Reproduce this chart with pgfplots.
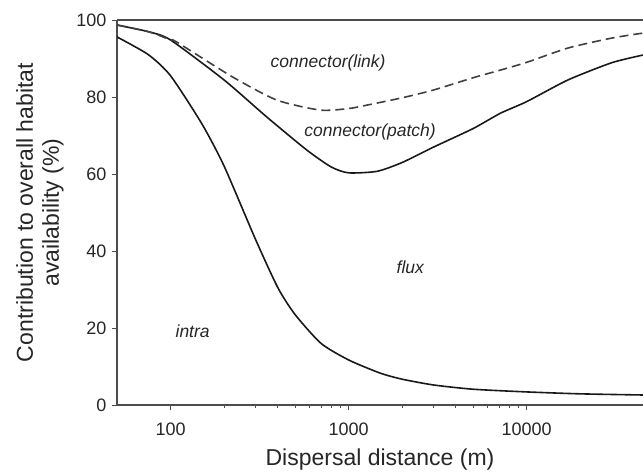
\documentclass[border=0pt]{standalone}
\usepackage{pgfplots}
\pgfplotsset{compat=1.18}
\usepackage{fontspec}
\setmainfont{Liberation Sans}
\begin{document}
\begin{tikzpicture}
\begin{axis}[
    name=ax,
    xmode=log,
    scale only axis,
    width=526pt, height=385pt,
    xmin=50, xmax=45000,
    ymin=0, ymax=100,
    axis x line=box, axis y line=left,
    axis line style={draw=black!70, line width=1.3pt, -},
    xtick={100,1000,10000},
    xticklabels={100,1000,10000},
    minor xtick={},
    ytick={0,20,...,100},
    xtick pos=bottom, ytick pos=left,
    tick align=outside,
    major tick length=5pt,
    tick style={draw=black!70, line width=1pt},
    /pgf/number format/assume math mode=true,
    ticklabel style={font=\fontsize{18}{20}\selectfont, text=black!85},
    xticklabel style={yshift=-9pt},
    yticklabel style={xshift=-2pt},
    xlabel={Dispersal distance (m)},
    ylabel={Contribution to overall habitat\\availability (\%)},
    label style={font=\fontsize{23}{26}\selectfont, text=black!85},
    ylabel style={align=center, yshift=6pt},
    xlabel style={yshift=-7pt},
]
% intra
\addplot[black!90, line width=1.6pt, no markers, smooth, tension=0.4] coordinates {
(50,95.6) (75,91) (100,85.5) (150,73) (200,62) (300,43) (400,30.5) (500,23.5)
(700,16) (1000,11.7) (1500,8.3) (2000,6.7) (3000,5.2) (5000,4.1) (10000,3.4)
(20000,2.9) (45000,2.6)};
% connector(patch)
\addplot[black!90, line width=1.6pt, no markers, smooth, tension=0.4] coordinates {
(50,98.7) (76,96.9) (100,94.8) (200,84.4) (347,74.8) (583,66.2) (800,61.8)
(1000,60.3) (1445,60.7) (2000,63) (3000,67.0) (5000,71.8) (7130,75.8)
(10000,78.8) (17000,84.4) (30000,88.9) (45000,90.9)};
% connector(link)
\addplot[black!75, line width=1.6pt, no markers, smooth, tension=0.4, dash pattern=on 9pt off 5pt] coordinates {
(50,98.7) (76,96.9) (100,94.8) (108,94.3) (223,85.2) (395,79.2) (692,76.6)
(1000,77.0) (1270,77.9) (2000,79.8) (2990,81.8) (5000,85.0) (7130,87.0)
(10000,89.0) (17000,92.7) (30000,95.3) (45000,96.6)};
\node[font=\fontsize{17.5}{20}\selectfont\itshape, text=black!85] at (axis cs:767,88.8) {connector(link)};
\node[font=\fontsize{17.5}{20}\selectfont\itshape, text=black!85] at (axis cs:1320,71) {connector(patch)};
\node[font=\fontsize{17.5}{20}\selectfont\itshape, text=black!85] at (axis cs:2220,35.8) {flux};
\node[font=\fontsize{17.5}{20}\selectfont\itshape, text=black!85] at (axis cs:133,19.2) {intra};
\end{axis}
\pgfresetboundingbox
\path[use as bounding box] ([shift={(-117pt,-67pt)}]ax.south west) rectangle ([yshift=20pt]ax.north east);
\end{tikzpicture}
\end{document}
